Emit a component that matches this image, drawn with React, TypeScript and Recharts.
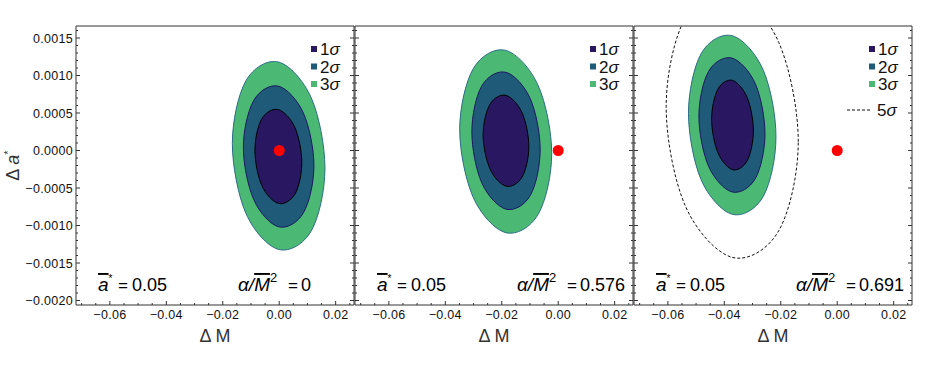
import { ComposedChart, Area, Line, Scatter, XAxis, YAxis, Label } from 'recharts';

type Pair = [number, number];

// contour points (ΔM, Δa*), eight points around each ring
const p1Sigma1: Pair[] = [[0.008, -0.000162], [0.0056, 0.000304], [-0.0003, 0.000545], [-0.0062, 0.00042], [-0.0086, 0.000002], [-0.0062, -0.000464], [-0.0003, -0.000705], [0.0056, -0.00058]];
const p1Sigma2: Pair[] = [[0.0123, -0.000203], [0.0086, 0.000496], [-0.0002, 0.000857], [-0.009, 0.000669], [-0.0127, 0.000043], [-0.009, -0.000656], [-0.0002, -0.001017], [0.0086, -0.000829]];
const p1Sigma3: Pair[] = [[0.0162, -0.000234], [0.0114, 0.000698], [-0.0002, 0.001179], [-0.0118, 0.000929], [-0.0166, 0.000094], [-0.0118, -0.000838], [-0.0002, -0.001319], [0.0114, -0.001069]];

const p2Sigma1: Pair[] = [[-0.0104, 0.000051], [-0.0128, 0.000502], [-0.0185, 0.000735], [-0.0242, 0.000614], [-0.0266, 0.000209], [-0.0242, -0.000242], [-0.0185, -0.000475], [-0.0128, -0.000354]];
const p2Sigma2: Pair[] = [[-0.0064, 0.00001], [-0.0099, 0.00069], [-0.0185, 0.001042], [-0.0271, 0.00086], [-0.0306, 0.00025], [-0.0271, -0.00043], [-0.0185, -0.000782], [-0.0099, -0.0006]];
const p2Sigma3: Pair[] = [[-0.0023, -0.000039], [-0.0071, 0.000866], [-0.0186, 0.001335], [-0.0301, 0.001091], [-0.0349, 0.000279], [-0.0301, -0.000626], [-0.0186, -0.001095], [-0.0071, -0.000851]];

const p3Sigma1: Pair[] = [[-0.0297, 0.000262], [-0.0319, 0.000706], [-0.0371, 0.000935], [-0.0423, 0.000816], [-0.0445, 0.000418], [-0.0423, -0.000026], [-0.0371, -0.000255], [-0.0319, -0.000136]];
const p3Sigma2: Pair[] = [[-0.0256, 0.000223], [-0.029, 0.000888], [-0.0373, 0.001232], [-0.0456, 0.001054], [-0.049, 0.000457], [-0.0456, -0.000208], [-0.0373, -0.000552], [-0.029, -0.000374]];
const p3Sigma3: Pair[] = [[-0.0217, 0.000184], [-0.0262, 0.001071], [-0.0372, 0.00153], [-0.0482, 0.001292], [-0.0527, 0.000496], [-0.0482, -0.000391], [-0.0372, -0.00085], [-0.0262, -0.000612]];
const p3Sigma5: Pair[] = [[-0.0138, 0.000117], [-0.0207, 0.00144], [-0.0372, 0.002125], [-0.0538, 0.001769], [-0.0606, 0.000583], [-0.0538, -0.00074], [-0.0372, -0.001425], [-0.0207, -0.001069]];

const fiducial: Pair[] = [[0, 0]];

const aStar = '0.05';
const ratios = ['0', '0.576', '0.691'];

const xMajor = [-0.06, -0.04, -0.02, 0, 0.02];
const xTicks = [-0.07, -0.065, -0.06, -0.055, -0.05, -0.045, -0.04, -0.035, -0.03, -0.025, -0.02, -0.015, -0.01, -0.005, 0, 0.005, 0.01, 0.015, 0.02, 0.025];
const yMajor = [-0.002, -0.0015, -0.001, -0.0005, 0, 0.0005, 0.001, 0.0015];
const yTicks = [
  -0.002, -0.0019, -0.0018, -0.0017, -0.0016, -0.0015, -0.0014, -0.0013, -0.0012, -0.0011,
  -0.001, -0.0009, -0.0008, -0.0007, -0.0006, -0.0005, -0.0004, -0.0003, -0.0002, -0.0001,
  0, 0.0001, 0.0002, 0.0003, 0.0004, 0.0005, 0.0006, 0.0007, 0.0008, 0.0009,
  0.001, 0.0011, 0.0012, 0.0013, 0.0014, 0.0015, 0.0016,
];

const X_DOMAIN: [number, number] = [-0.072, 0.0265];
const Y_DOMAIN: [number, number] = [-0.00206, 0.00166];

const SANS = '"Liberation Sans", Arial, sans-serif';
const FRAME = '#333';
const COLORS = {
  s1: { fill: '#2a1761', stroke: '#000' },
  s2: { fill: '#1f5a79', stroke: '#1b1762' },
  s3: { fill: '#4bb873', stroke: '#2b6d88' },
};

const toPoints = (list: Pair[]) => list.map(([x, y]) => ({ x, y }));

const isMajor = (v: number, majors: number[]) => majors.some((m) => Math.abs(m - v) < 1e-9);
const fmt = (v: number, digits: number) => (v < -1e-12 ? '\u2212' : '') + Math.abs(v).toFixed(digits);

// closed Catmull-Rom through the contour points, so a ring of 8 points reads as a smooth ellipse.
// in area mode only the upper line is drawn, the baseline pass is dropped.
const closedSmooth = (ctx: any) => {
  let pts: number[][] = [];
  let inArea = false;
  let lineNo = 0;
  return {
    areaStart() { inArea = true; lineNo = 0; },
    areaEnd() { inArea = false; },
    lineStart() { pts = []; },
    lineEnd() {
      if ((!inArea || lineNo === 0) && pts.length > 2) {
        const n = pts.length;
        ctx.moveTo(pts[0][0], pts[0][1]);
        for (let i = 0; i < n; i++) {
          const a = pts[(i + n - 1) % n];
          const b = pts[i];
          const c = pts[(i + 1) % n];
          const d = pts[(i + 2) % n];
          ctx.bezierCurveTo(
            b[0] + (c[0] - a[0]) / 6, b[1] + (c[1] - a[1]) / 6,
            c[0] - (d[0] - b[0]) / 6, c[1] - (d[1] - b[1]) / 6,
            c[0], c[1],
          );
        }
        ctx.closePath();
      }
      lineNo++;
    },
    point(x: number, y: number) { pts.push([+x, +y]); },
  };
};

const tickText = { fontFamily: SANS, fontSize: 12.5, fill: '#111', letterSpacing: 0.3 };

const bottomTick = (props: any) => {
  const { x, y, payload } = props;
  const major = isMajor(payload.value, xMajor);
  return (
    <g>
      <line x1={x} y1={y} x2={x} y2={y - (major ? 4 : 2)} stroke={FRAME} />
      {major && (
        <text x={x} y={y + 14} textAnchor="middle" {...tickText}>{fmt(payload.value, 2)}</text>
      )}
    </g>
  );
};

const topTick = (props: any) => {
  const { x, y, payload } = props;
  const major = isMajor(payload.value, xMajor);
  return <line x1={x} y1={y} x2={x} y2={y + (major ? 4 : 2)} stroke={FRAME} />;
};

const leftTick = (showLabels: boolean) => (props: any) => {
  const { x, y, payload } = props;
  const major = isMajor(payload.value, yMajor);
  return (
    <g>
      <line x1={x} y1={y} x2={x + (major ? 4 : 2)} y2={y} stroke={FRAME} />
      {major && showLabels && (
        <text x={x - 3} y={y + 4.5} textAnchor="end" {...tickText}>{fmt(payload.value, 4)}</text>
      )}
    </g>
  );
};

const rightTick = (props: any) => {
  const { x, y, payload } = props;
  const major = isMajor(payload.value, yMajor);
  return <line x1={x} y1={y} x2={x - (major ? 4 : 2)} y2={y} stroke={FRAME} />;
};

const PLOT_TOP = 26;
const PLOT_H = 279;
const PLOT_W = 278;

interface PanelProps {
  left: number;
  marginLeft: number;
  marginRight: number;
  sigma1: Pair[];
  sigma2: Pair[];
  sigma3: Pair[];
  sigma5?: Pair[];
  ratio: string;
  yLabels?: boolean;
}

const Panel = ({ left, marginLeft, marginRight, sigma1, sigma2, sigma3, sigma5, ratio, yLabels = false }: PanelProps) => {
  const L = marginLeft;
  const width = marginLeft + PLOT_W + marginRight;
  const legendRows = [
    { label: '1', color: COLORS.s1.fill },
    { label: '2', color: COLORS.s2.fill },
    { label: '3', color: COLORS.s3.fill },
  ];
  // every axis is 1px thick, so the margins give up that pixel
  return (
    <div style={{ position: 'absolute', left, top: 0 }}>
      <ComposedChart
        width={width}
        height={369}
        margin={{ top: PLOT_TOP - 1, right: marginRight - 1, bottom: 369 - PLOT_TOP - PLOT_H - 1, left: marginLeft - 1 }}
      >
        <XAxis
          type="number"
          dataKey="x"
          domain={X_DOMAIN}
          ticks={xTicks}
          allowDataOverflow
          interval={0}
          height={1}
          tickSize={0}
          tickMargin={0}
          tickLine={false}
          axisLine={{ stroke: FRAME }}
          tick={bottomTick}
        >
          <Label
            content={({ viewBox }: any) => (
              <text
                x={viewBox.x + viewBox.width / 2}
                y={viewBox.y + 37}
                textAnchor="middle"
                fontFamily={SANS}
                fontSize={18}
                fill="#333"
              >
                Δ M
              </text>
            )}
          />
        </XAxis>
        <XAxis
          xAxisId="top"
          orientation="top"
          type="number"
          domain={X_DOMAIN}
          ticks={xTicks}
          allowDataOverflow
          interval={0}
          height={1}
          tickSize={0}
          tickMargin={0}
          tickLine={false}
          axisLine={{ stroke: FRAME }}
          tick={topTick}
        />
        <YAxis
          type="number"
          dataKey="y"
          domain={Y_DOMAIN}
          ticks={yTicks}
          allowDataOverflow
          interval={0}
          width={1}
          tickSize={0}
          tickMargin={0}
          tickLine={false}
          axisLine={{ stroke: FRAME }}
          tick={leftTick(yLabels)}
        >
          {yLabels && (
            <Label
              content={({ viewBox }: any) => (
                <text
                  transform={`translate(${viewBox.x - 56},${viewBox.y + viewBox.height / 2}) rotate(-90)`}
                  textAnchor="middle"
                  fontFamily={SANS}
                  fontSize={18}
                  fill="#333"
                >
                  Δ <tspan fontStyle="italic">a</tspan>
                  <tspan dy={-7} fontSize={11}>*</tspan>
                </text>
              )}
            />
          )}
        </YAxis>
        <YAxis
          yAxisId="right"
          orientation="right"
          type="number"
          domain={Y_DOMAIN}
          ticks={yTicks}
          allowDataOverflow
          interval={0}
          width={1}
          tickSize={0}
          tickMargin={0}
          tickLine={false}
          axisLine={{ stroke: FRAME }}
          tick={rightTick}
        />

        <Area
          data={toPoints(sigma3)}
          dataKey="y"
          name="3σ"
          type={closedSmooth as any}
          fill={COLORS.s3.fill}
          fillOpacity={1}
          stroke={COLORS.s3.stroke}
          strokeWidth={1}
          isAnimationActive={false}
        />
        <Area
          data={toPoints(sigma2)}
          dataKey="y"
          name="2σ"
          type={closedSmooth as any}
          fill={COLORS.s2.fill}
          fillOpacity={1}
          stroke={COLORS.s2.stroke}
          strokeWidth={1}
          isAnimationActive={false}
        />
        <Area
          data={toPoints(sigma1)}
          dataKey="y"
          name="1σ"
          type={closedSmooth as any}
          fill={COLORS.s1.fill}
          fillOpacity={1}
          stroke={COLORS.s1.stroke}
          strokeWidth={1}
          isAnimationActive={false}
        />
        {sigma5 && (
          <Line
            data={toPoints(sigma5)}
            dataKey="y"
            name="5σ"
            type={closedSmooth as any}
            stroke="#111"
            strokeWidth={1}
            strokeDasharray="3 2"
            dot={false}
            activeDot={false}
            isAnimationActive={false}
          />
        )}
        <Scatter
          data={toPoints(fiducial)}
          isAnimationActive={false}
          shape={(p: any) => <circle cx={p.cx} cy={p.cy} r={5.5} fill="#ff0000" />}
        />

        {/* legend */}
        <g fontFamily={SANS} fontSize={17} fill="#111">
          {legendRows.map((row, i) => (
            <g key={row.label}>
              <rect x={L + 235} y={PLOT_TOP + 20 + i * 17.5} width={6} height={6} fill={row.color} />
              <text x={L + 244} y={PLOT_TOP + 29 + i * 17.5}>
                {row.label}
                <tspan fontStyle="italic">σ</tspan>
              </text>
            </g>
          ))}
          {sigma5 && (
            <g>
              <line x1={L + 213} x2={L + 238} y1={PLOT_TOP + 84} y2={PLOT_TOP + 84} stroke="#111" strokeDasharray="3 2" />
              <text x={L + 243} y={PLOT_TOP + 90}>
                5<tspan fontStyle="italic">σ</tspan>
              </text>
            </g>
          )}
        </g>

        {/* parameter annotations */}
        <g fontFamily={SANS} fontSize={19} fill="#000">
          <text x={L + 22} y={PLOT_TOP + PLOT_H - 14}>
            <tspan fontStyle="italic" style={{ textDecoration: 'overline' }}>a</tspan>
            <tspan dy={-9} fontSize={10}>*</tspan>
            <tspan x={L + 42} dy={9} fontSize={17}>=</tspan>
            <tspan x={L + 56} fontSize={18}>{aStar}</tspan>
          </text>
          <text x={L + 162} y={PLOT_TOP + PLOT_H - 14}>
            <tspan fontStyle="italic">α/</tspan>
            <tspan fontStyle="italic" style={{ textDecoration: 'overline' }}>M</tspan>
            <tspan dy={-9} fontSize={13}>2</tspan>
            <tspan x={L + 212} dy={9} fontSize={17}>=</tspan>
            <tspan x={L + 225} fontSize={18}>{ratio}</tspan>
          </text>
        </g>
      </ComposedChart>
    </div>
  );
}

export default function App() {
  return (
    <div style={{ position: 'absolute', left: 0, top: 0, width: 926, height: 369, background: '#fff' }}>
      <Panel left={0} marginLeft={76} marginRight={2} sigma1={p1Sigma1} sigma2={p1Sigma2} sigma3={p1Sigma3} ratio={ratios[0]} yLabels />
      <Panel left={353} marginLeft={2} marginRight={2} sigma1={p2Sigma1} sigma2={p2Sigma2} sigma3={p2Sigma3} ratio={ratios[1]} />
      <Panel left={632} marginLeft={2} marginRight={14} sigma1={p3Sigma1} sigma2={p3Sigma2} sigma3={p3Sigma3} sigma5={p3Sigma5} ratio={ratios[2]} />
    </div>
  );
}
